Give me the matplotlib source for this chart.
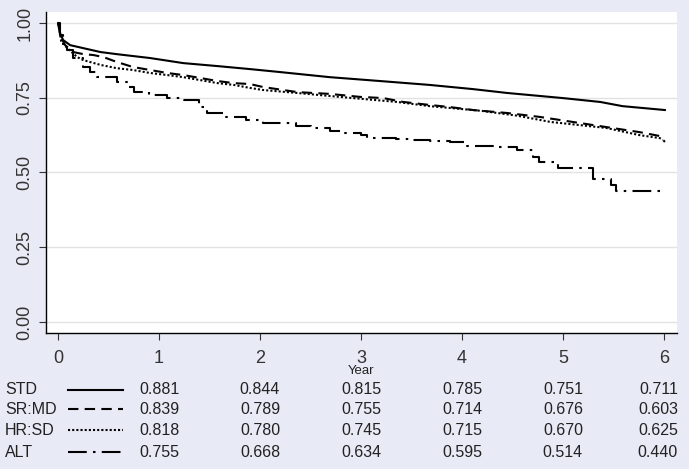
import matplotlib
matplotlib.use("Agg")
import matplotlib.pyplot as plt
from matplotlib.lines import Line2D

plt.rcParams['font.family'] = ['Liberation Sans', 'DejaVu Sans']

# survival curves (time in years, survival)
std_t = [0, 0.02, 0.05, 0.12, 0.25, 0.42, 0.58, 0.91, 1.24, 1.58, 1.90, 2.20,
         2.69, 3.19, 3.68, 4.11, 4.45, 5.00, 5.37, 5.59, 6.01]
std_s = [1.0, 0.965, 0.943, 0.926, 0.916, 0.903, 0.896, 0.883, 0.866, 0.856,
         0.846, 0.836, 0.819, 0.806, 0.793, 0.779, 0.766, 0.749, 0.736, 0.722, 0.709]

srmd_t = [0, 0.03, 0.07, 0.15, 0.25, 0.35, 0.45, 0.58, 0.74, 0.91, 1.08, 1.24,
          1.41, 1.58, 1.74, 1.90, 2.03, 2.37, 2.69, 2.99, 3.22, 3.42, 3.68, 3.88,
          4.11, 4.45, 4.77, 5.10, 5.43, 5.76, 5.96, 6.01]
srmd_s = [1.0, 0.95, 0.926, 0.903, 0.896, 0.893, 0.886, 0.870, 0.853, 0.843,
          0.833, 0.826, 0.816, 0.806, 0.799, 0.796, 0.786, 0.769, 0.763, 0.753,
          0.749, 0.736, 0.726, 0.719, 0.709, 0.699, 0.686, 0.669, 0.652, 0.635,
          0.622, 0.602]

hrsd_t = [0, 0.03, 0.09, 0.19, 0.25, 0.42, 0.58, 0.74, 0.91, 1.08, 1.24, 1.41,
          1.58, 1.74, 1.90, 2.03, 2.37, 2.69, 3.02, 3.36, 3.68, 3.88, 4.20, 4.55,
          4.88, 5.43, 5.76, 5.96, 5.99]
hrsd_s = [1.0, 0.94, 0.916, 0.886, 0.876, 0.860, 0.849, 0.843, 0.833, 0.826,
          0.819, 0.809, 0.799, 0.793, 0.783, 0.776, 0.766, 0.756, 0.746, 0.736,
          0.722, 0.716, 0.706, 0.690, 0.669, 0.649, 0.625, 0.615, 0.609]

alt_t = [0, 0.02, 0.05, 0.09, 0.15, 0.25, 0.32, 0.39, 0.58, 0.69, 0.75, 0.90,
         1.08, 1.25, 1.40, 1.47, 1.65, 1.86, 2.03, 2.36, 2.50, 2.69, 2.79, 3.00,
         3.06, 3.35, 3.48, 3.68, 3.88, 4.05, 4.35, 4.55, 4.70, 4.76, 4.95, 5.30,
         5.48, 5.53, 5.98]
alt_s = [1.0, 0.96, 0.93, 0.91, 0.883, 0.853, 0.836, 0.819, 0.803, 0.786, 0.769,
         0.759, 0.749, 0.742, 0.719, 0.699, 0.686, 0.676, 0.666, 0.656, 0.649,
         0.639, 0.632, 0.625, 0.615, 0.612, 0.609, 0.605, 0.602, 0.590, 0.585,
         0.575, 0.552, 0.535, 0.515, 0.478, 0.458, 0.438, 0.438]

# risk table underneath
groups = ['STD', 'SR:MD', 'HR:SD', 'ALT']
years = [1, 2, 3, 4, 5, 6]
table_vals = [
    ['0.881', '0.844', '0.815', '0.785', '0.751', '0.711'],
    ['0.839', '0.789', '0.755', '0.714', '0.676', '0.603'],
    ['0.818', '0.780', '0.745', '0.715', '0.670', '0.625'],
    ['0.755', '0.668', '0.634', '0.595', '0.514', '0.440'],
]

W, H = 689, 469
bg = '#e8eaf5'
styles = [
    dict(ls='-', lw=1.5),
    dict(ls=(0, (5, 3)), lw=1.5),
    dict(ls=(0, (1, 1)), lw=1.5),
    dict(ls=(0, (9, 3, 1.2, 3)), lw=1.5),
]

fig = plt.figure(figsize=(W / 100, H / 100), dpi=100, facecolor=bg)
ax = fig.add_axes([46 / W, 1 - 333 / H, (677 - 46) / W, (333 - 12) / H])
ax.set_facecolor('white')

ax.plot(std_t, std_s, color='black', **styles[0])
ax.plot(srmd_t, srmd_s, color='black', **styles[1])
ax.plot(hrsd_t, hrsd_s, color='black', **styles[2])
ax.plot(alt_t, alt_s, color='black', drawstyle='steps-post', **styles[3])

ax.set_xlim(-0.12, 6.13)
ax.set_ylim(-0.037, 1.037)
ax.set_xticks(range(0, 7))
ax.set_yticks([0, 0.25, 0.5, 0.75, 1.0])
ax.set_yticklabels(['0.00', '0.25', '0.50', '0.75', '1.00'], rotation=90, va='center')
ax.yaxis.grid(True, color='#e2e2e2', lw=1)
ax.set_axisbelow(True)
for s in ['top', 'right']:
    ax.spines[s].set_visible(False)
for s in ['left', 'bottom']:
    ax.spines[s].set_color('black')
    ax.spines[s].set_linewidth(1.0)
ax.tick_params(axis='y', length=5, pad=4, labelsize=13, color='#333333',
               labelcolor='#333333')
ax.tick_params(axis='x', length=5, pad=7, labelsize=13, color='#333333',
               labelcolor='#333333')
ax.text(3, -0.145, 'Year', transform=ax.transData, ha='center', va='top',
        fontsize=9.5, color='#222222', clip_on=False)

# table rows
row_y = [390, 409, 430, 452]
for i, g in enumerate(groups):
    y = 1 - row_y[i] / H
    fig.text(5 / W, y, g, ha='left', va='center', fontsize=11.5, color='#222222')
    fig.add_artist(Line2D([68 / W, 123 / W], [y, y], color='black',
                          transform=fig.transFigure, **styles[i]))
    for j, yr in enumerate(years):
        xd = ax.transData.transform((yr, 0))[0]
        xf = fig.transFigure.inverted().transform((xd, 0))[0]
        if j == len(years) - 1:
            fig.text(678 / W, y, table_vals[i][j], ha='right', va='center',
                     fontsize=11.5, color='#222222')
        else:
            fig.text(xf, y, table_vals[i][j], ha='center', va='center',
                     fontsize=11.5, color='#222222')

fig.savefig('out.png', dpi=100, facecolor=bg)
